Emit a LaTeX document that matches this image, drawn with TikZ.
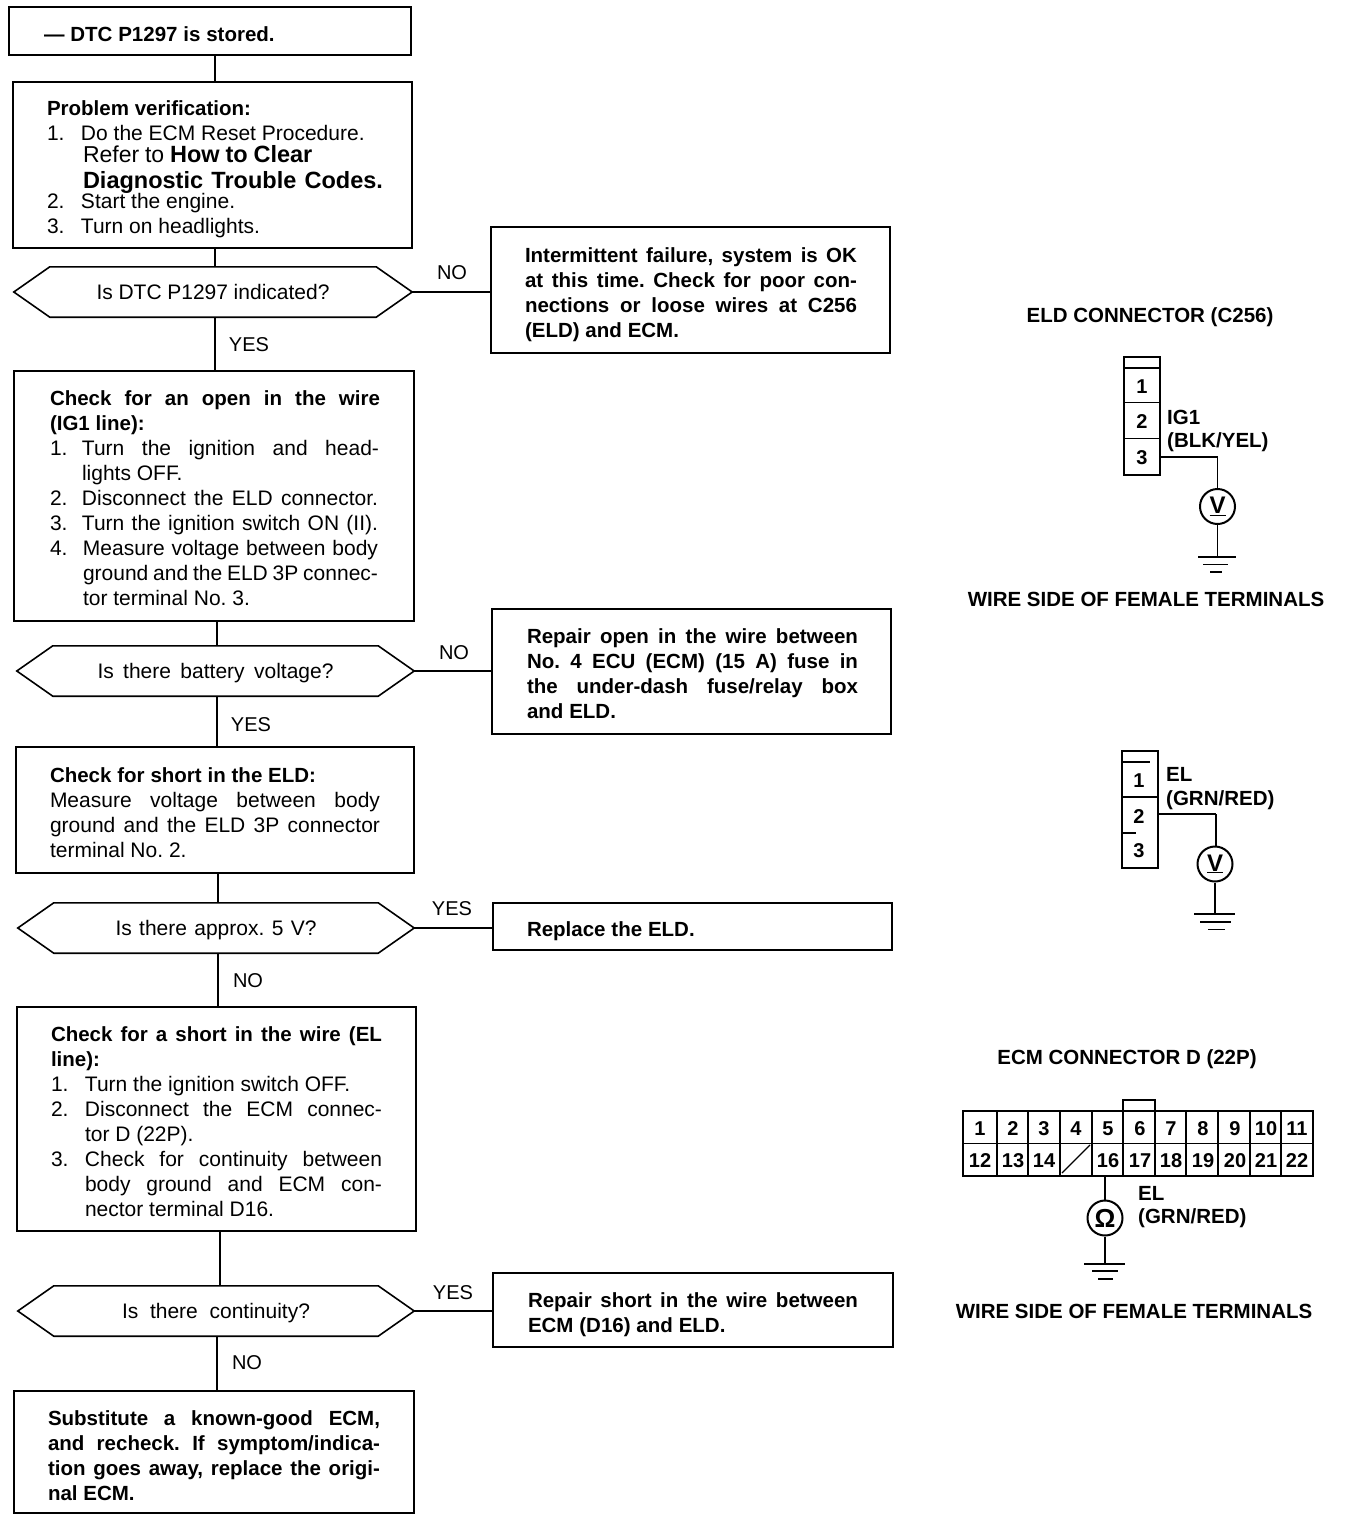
\documentclass[tikz,border=0pt]{standalone}
\usepackage{fontspec}
\setmainfont{Liberation Sans}
\usetikzlibrary{calc}
\newcommand{\bodyfont}{\fontsize{21}{25}\selectfont\frenchspacing}
\newcommand{\bd}{\fontsize{20.5}{25}\selectfont\bfseries}
\newcommand{\jl}[2]{\makebox[#1pt][s]{\spaceskip=0.278em plus 1fil minus 0.12em\relax\xspaceskip=\spaceskip #2}}
\newcommand{\nl}[3]{\makebox[#1pt][l]{#2}#3}
\tikzset{
  x=1pt,y=-1pt,
  boxnode/.style={draw,line width=1.8pt,rectangle,inner ysep=0pt,align=left,font=\bodyfont,anchor=center},
  decnode/.style={rectangle,inner sep=0pt,font=\bodyfont,anchor=center,text height=15pt,text depth=4pt},
  lab/.style={font=\fontsize{20}{25}\selectfont,inner sep=0pt},
  blab/.style={font=\bd,inner sep=0pt},
  conn/.style={line width=1.6pt},
  thinw/.style={line width=1.4pt},
  meter/.style={circle,draw,line width=2pt,minimum size=35pt,inner sep=0pt,font=\fontsize{24}{24}\selectfont\bfseries},
  pin/.style={font=\fontsize{20}{22}\selectfont\bfseries,inner sep=0pt,anchor=center},
}
% name x1 y1 x2 y2 pad first-line height text
\newcommand{\bx}[8]{%
  \pgfmathsetmacro{\mw}{#4-#2}\pgfmathsetmacro{\mh}{#5-#3}%
  \pgfmathsetmacro{\tw}{#4-#2-2*#6}%
  \pgfmathsetmacro{\cx}{(#2+#4)/2}\pgfmathsetmacro{\cy}{(#3+#5)/2}%
  \node[boxnode,minimum width=\mw pt,minimum height=\mh pt,text width=\tw pt,inner xsep=#6pt] (#1) at (\cx,\cy)
    {\spaceskip=0.278em\relax\xspaceskip=0.278em\relax\rule{0pt}{#7pt}#8};}
% name x1 x2 cy width text
\newcommand{\dec}[6]{%
  \pgfmathsetmacro{\mw}{#3-#2}\pgfmathsetmacro{\cx}{(#2+#3)/2}%
  \node[decnode,minimum width=\mw pt,minimum height=50pt] (#1) at (\cx,#4) {\raisebox{-2pt}{\jl{#5}{#6}}};
  \draw[conn] (#1.west) -- ($(#1.north west)+(36,0)$) -- ($(#1.north east)+(-36,0)$) -- (#1.east)
     -- ($(#1.south east)+(-36,0)$) -- ($(#1.south west)+(36,0)$) -- cycle;}
\newcommand{\vc}[3]{\draw[conn] (#1,0 |- #2.south) -- (#1,0 |- #3.north);}
\newcommand{\hc}[2]{\draw[conn] (#1.east) -- (#2.west |- #1.east);}
\begin{document}
\begin{tikzpicture}
\useasboundingbox (0,0) rectangle (1344,1520);
\fill[white] (0,0) rectangle (1344,1520);

\bx{A}{9}{7}{411}{55}{35}{21}{\bd — DTC P1297 is stored.}
\bx{B}{13}{82}{412}{248}{34}{23}{{\bd Problem verification:}\\
\nl{34}{1.}{Do the ECM Reset Procedure.}\\[-3pt]
\hspace*{36pt}\rlap{{\fontsize{23}{25}\selectfont Refer to} {\fontsize{23.5}{25}\selectfont\bfseries How to Clear}}\\[1pt]
\hspace*{36pt}\rlap{\fontsize{23.5}{25}\selectfont\bfseries\jl{300}{Diagnostic Trouble Codes.}}\\[-5pt]
\nl{34}{2.}{Start the engine.}\\
\nl{34}{3.}{Turn on headlights.}}

\dec{D1}{14}{412}{292}{233}{Is DTC P1297 indicated?}
\bx{R1}{491}{227}{890}{353}{34}{25}{\bd
\jl{332}{Intermittent failure, system is OK}\\
\jl{332}{at this time. Check for poor con-}\\
\jl{332}{nections or loose wires at C256}\\
(ELD) and ECM.}

\bx{C}{14}{371}{414}{621}{36}{19}{{\bd\jl{330}{Check for an open in the wire}}\\
{\bd (IG1 line):}\\
\nl{32}{1.}{\jl{297}{Turn the ignition and head-}}\\
\hspace*{32pt}lights OFF.\\
\nl{32}{2.}{\jl{296}{Disconnect the ELD connector.}}\\
\nl{32}{3.}{\jl{296}{Turn the ignition switch ON (II).}}\\
\nl{33}{4.}{\jl{295}{Measure voltage between body}}\\
\hspace*{33pt}\jl{295}{ground and the ELD 3P connec-}\\
\hspace*{33pt}tor terminal No. 3.}

\dec{D2}{17}{414}{671}{236}{Is there battery voltage?}
\bx{R2}{492}{609}{891}{734}{35}{19}{\bd
\jl{331}{Repair open in the wire between}\\
\jl{331}{No. 4 ECU (ECM) (15 A) fuse in}\\
\jl{331}{the under-dash fuse/relay box}\\
and ELD.}

\bx{E}{16}{747}{414}{873}{34}{21}{{\bd Check for short in the ELD:}\\
\jl{330}{Measure voltage between body}\\
\jl{330}{ground and the ELD 3P connector}\\
terminal No. 2.}

\dec{D3}{18}{414}{928}{201}{Is there approx. 5 V?}
\bx{R3}{493}{903}{892}{950}{34}{25}{\bd Replace the ELD.}

\bx{F}{17}{1007}{416}{1231}{34}{21}{{\bd\jl{331}{Check for a short in the wire (EL}}\\
{\bd line):}\\
\nl{34}{1.}{Turn the ignition switch OFF.}\\
\nl{34}{2.}{\jl{297}{Disconnect the ECM connec-}}\\
\hspace*{34pt}tor D (22P).\\
\nl{34}{3.}{\jl{297}{Check for continuity between}}\\
\hspace*{34pt}\jl{297}{body ground and ECM con-}\\
\hspace*{34pt}nector terminal D16.}

\dec{D4}{18}{414}{1311}{188}{Is there continuity?}
\bx{R4}{493}{1273}{893}{1347}{35}{25}{\bd
\jl{330}{Repair short in the wire between}\\
ECM (D16) and ELD.}

\bx{G}{14}{1391}{414}{1513}{34}{23}{\bd
\jl{332}{Substitute a known-good ECM,}\\
\jl{332}{and recheck. If symptom/indica-}\\
\jl{332}{tion goes away, replace the origi-}\\
nal ECM.}

% connectors
\vc{215}{A}{B}
\vc{215}{B}{D1}
\vc{215}{D1}{C}
\vc{217}{C}{D2}
\vc{217}{D2}{E}
\vc{218}{E}{D3}
\vc{218}{D3}{F}
\vc{220}{F}{D4}
\vc{217}{D4}{G}
\hc{D1}{R1}
\hc{D2}{R2}
\hc{D3}{R3}
\hc{D4}{R4}

% branch labels
\node[lab] (n1) at (452,273) {NO};
\node[lab] (y1) at (249,345) {YES};
\node[lab] (n2) at (454,653) {NO};
\node[lab] (y2) at (251,725) {YES};
\node[lab] (y3) at (452,909) {YES};
\node[lab] (n3) at (248,981) {NO};
\node[lab] (y4) at (453,1293) {YES};
\node[lab] (n4) at (247,1363) {NO};

% ELD connector, upper
\node[blab] (t1) at (1150,317) {ELD CONNECTOR (C256)};
\draw[line width=2.2pt] (1124,357) rectangle (1160,475);
\draw[line width=1.6pt] (1124,368) -- (1160,368);
\draw[line width=1pt] (1124,402.5) -- (1160,402.5) (1124,438) -- (1160,438);
\node[pin] (p1) at (1142,387) {1};
\node[pin] (p2) at (1142,422) {2};
\node[pin] (p3) at (1142,458) {3};
\node[blab,anchor=west] (t2) at (1167,417) {IG1};
\node[blab,anchor=west] (t3) at (1167,442) {(BLK/YEL)};
\coordinate (w1) at (1160,457);
\node[meter] (m1) at (1217.5,506.5) {\raisebox{1pt}{\underline{V}}};
\draw[thinw] (w1) -| (m1.north);
\coordinate (g1) at (1217.5,557);
\draw[thinw] (m1.south) -- (g1);
\draw[line width=1.8pt] (1198,557) -- (1236,557);
\draw[line width=1.8pt] (1203,564.5) -- (1228,564.5);
\draw[line width=1.4pt] (1210,572) -- (1222,572);
\node[blab] (t4) at (1146,599) {WIRE SIDE OF FEMALE TERMINALS};

% ELD connector, lower
\draw[line width=2.2pt] (1122,751) rectangle (1158,868);
\draw[line width=1.2pt] (1122,762) -- (1150,762);
\draw[line width=1.2pt] (1122,797) -- (1158,797);
\draw[line width=1.2pt] (1122,833) -- (1136,833);
\node[pin] (q1) at (1139,781) {1};
\node[pin] (q2) at (1139,817) {2};
\node[pin] (q3) at (1139,851) {3};
\node[blab,anchor=west] (t5) at (1166,774) {EL};
\node[blab,anchor=west] (t6) at (1166,800) {(GRN/RED)};
\coordinate (w2) at (1158,814);
\node[meter] (m2) at (1215,864) {\raisebox{1pt}{\underline{V}}};
\draw[line width=2.4pt] (w2) -- (1216,814);
\draw[thinw] (1216,814) -- (1216,846);
\coordinate (g2) at (1215,914);
\draw[thinw] (m2.south) -- (g2);
\draw[line width=1.8pt] (1194,914) -- (1235,914);
\draw[line width=1.8pt] (1200,922) -- (1231,922);
\draw[line width=1.4pt] (1208,929.5) -- (1225,929.5);

% ECM connector
\node[blab] (t7) at (1127,1059) {ECM CONNECTOR D (22P)};
\draw[line width=2.2pt] (963,1111) rectangle (1313,1176);
\draw[line width=1.6pt] (963,1143.5) -- (1313,1143.5);
\foreach \xx in {997,1028,1060,1092,1123,1155,1186,1218,1250,1281}
  \draw[line width=1.2pt] (\xx,1111) -- (\xx,1176);
\draw[line width=1.8pt] (1123,1111) -- (1123,1100) -- (1155,1100) -- (1155,1111);
\draw[line width=1.2pt] (1062,1173) -- (1090,1145);
\foreach \xx/\nn in {980/1,1013/2,1044/3,1076/4,1108/5,1140/6,1171/7,1203/8,1235/9,1266/10,1297/11}
  \node[pin] (c\nn) at (\xx,1129) {\nn};
\foreach \xx/\nn in {980/12,1013/13,1044/14,1108/16,1140/17,1171/18,1203/19,1235/20,1266/21,1297/22}
  \node[pin] (c\nn) at (\xx,1161) {\nn};
\node[blab,anchor=west] (t8) at (1138,1193) {EL};
\node[blab,anchor=west] (t9) at (1138,1218) {(GRN/RED)};
\node[meter,font=\fontsize{26}{26}\selectfont\bfseries] (m3) at (1105,1218) {Ω};
\coordinate (w3) at (1105,1176);
\draw[thinw] (w3) -- (m3.north);
\coordinate (g3) at (1105,1264);
\draw[thinw] (m3.south) -- (g3);
\draw[line width=1.8pt] (1084,1264) -- (1125,1264);
\draw[line width=1.8pt] (1092,1271) -- (1118,1271);
\draw[line width=1.4pt] (1098,1279) -- (1113,1279);
\node[blab] (t10) at (1134,1311) {WIRE SIDE OF FEMALE TERMINALS};
\end{tikzpicture}
\end{document}
